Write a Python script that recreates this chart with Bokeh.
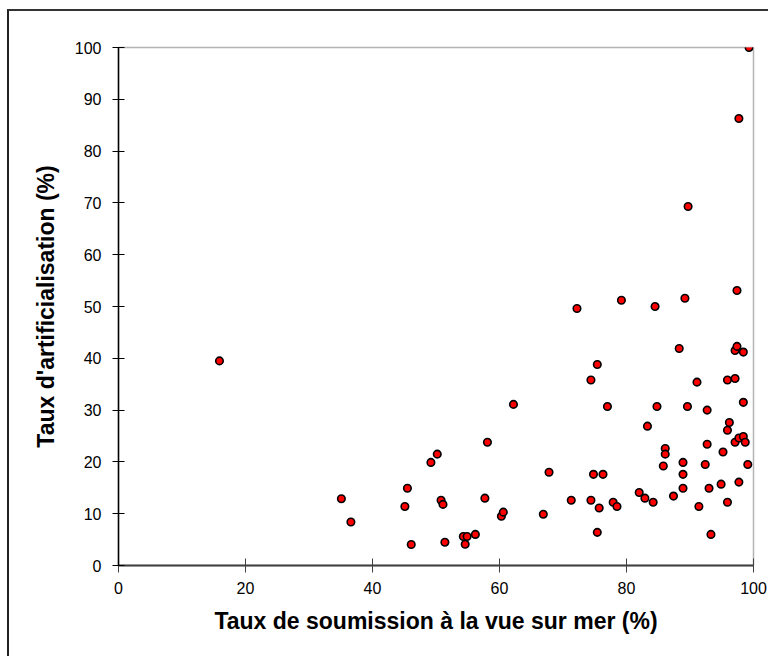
from bokeh.plotting import figure
from bokeh.models import Range1d, FixedTicker
from bokeh.embed import file_html
from bokeh.resources import INLINE

# Taux de soumission à la vue sur mer (%)
vue_mer = [15.9, 35.1, 36.6, 45.5, 45.1, 46.1, 49.2, 50.2, 50.8, 51.1,
           51.4, 54.3, 54.9, 54.6, 56.2, 57.7, 58.1, 60.3, 60.6, 62.2,
           66.9, 67.8, 71.3, 72.2, 74.4, 74.4, 74.8, 75.4, 75.4, 75.7,
           76.3, 77.0, 77.9, 78.5, 79.2, 82.0, 82.9, 83.3, 84.2, 84.5,
           84.8, 85.8, 86.1, 86.1, 87.4, 88.3, 88.9, 88.9, 88.9, 89.2,
           89.6, 89.7, 91.1, 91.4, 92.4, 92.7, 92.7, 93.0, 93.3, 94.9,
           95.2, 95.9, 95.9, 95.9, 96.2, 97.1, 97.1, 97.1, 97.4, 97.4,
           97.7, 97.7, 97.7, 98.4, 98.4, 98.4, 98.7, 99.1, 99.3]
# Taux d'artificialisation (%)
artif = [39.5, 12.9, 8.4, 14.9, 11.4, 4.05, 19.9, 21.5, 12.6, 11.8,
         4.5, 5.6, 5.6, 4.1, 6.0, 13.0, 23.8, 9.5, 10.3, 31.1,
         9.9, 18.0, 12.6, 49.6, 35.8, 12.6, 17.6, 38.8, 6.4, 11.1,
         17.6, 30.7, 12.2, 11.4, 51.2, 14.1, 13.0, 26.9, 12.2, 50.0,
         30.7, 19.2, 22.6, 21.5, 13.4, 41.9, 19.9, 17.6, 14.9, 51.6,
         30.7, 69.3, 35.4, 11.4, 19.5, 30.0, 23.4, 14.9, 6.0, 15.7,
         21.9, 35.8, 26.1, 12.2, 27.6, 41.5, 36.1, 23.8, 42.3, 53.1,
         24.6, 16.1, 86.3, 41.2, 31.5, 24.9, 23.8, 19.5, 100.0]

x_ticks = [0, 20, 40, 60, 80, 100]
y_ticks = [0, 10, 20, 30, 40, 50, 60, 70, 80, 90, 100]

p = figure(width=761, height=647, output_backend="svg", toolbar_location=None,
           x_range=Range1d(0, 100), y_range=Range1d(0, 100),
           min_border_left=109, min_border_right=17,
           min_border_top=36, min_border_bottom=93)
p.styles = {"border-left": "2px solid #222222", "border-top": "2px solid #333333",
            "margin-top": "9px", "margin-left": "7px"}

p.outline_line_color = "#b4b4b4"
p.outline_line_width = 1.5
p.xgrid.visible = False
p.ygrid.visible = False
p.background_fill_color = "white"
p.border_fill_color = "white"

p.scatter(vue_mer, artif, size=7.5, fill_color="#ff0000", line_color="black",
          line_width=1.6)

font = "Liberation Sans"

p.xaxis.ticker = FixedTicker(ticks=x_ticks)
p.yaxis.ticker = FixedTicker(ticks=y_ticks)
p.xaxis.minor_tick_line_color = None
p.yaxis.minor_tick_line_color = None

p.xaxis.axis_line_color = "#404040"
p.xaxis.axis_line_width = 2
p.xaxis.major_tick_line_color = "#404040"
p.xaxis.major_tick_in = 7
p.xaxis.major_tick_out = 7
p.xaxis.major_label_standoff = 9
p.xaxis.axis_label = "Taux de soumission à la vue sur mer (%)"
p.xaxis.axis_label_standoff = 11

p.yaxis.axis_line_color = "black"
p.yaxis.axis_line_width = 1.5
p.yaxis.major_tick_line_color = "black"
p.yaxis.major_tick_in = 6
p.yaxis.major_tick_out = 6
p.yaxis.major_label_standoff = 11
p.yaxis.axis_label = "Taux d'artificialisation (%)"
p.yaxis.axis_label_standoff = 13

for ax in (p.xaxis, p.yaxis):
    ax.major_label_text_font = font
    ax.major_label_text_font_size = "16px"
    ax.major_label_text_color = "black"
    ax.axis_label_text_font = font
    ax.axis_label_text_font_size = "23px"
    ax.axis_label_text_font_style = "bold"
    ax.axis_label_text_color = "black"

open("out.html", "w").write(file_html(p, INLINE))
